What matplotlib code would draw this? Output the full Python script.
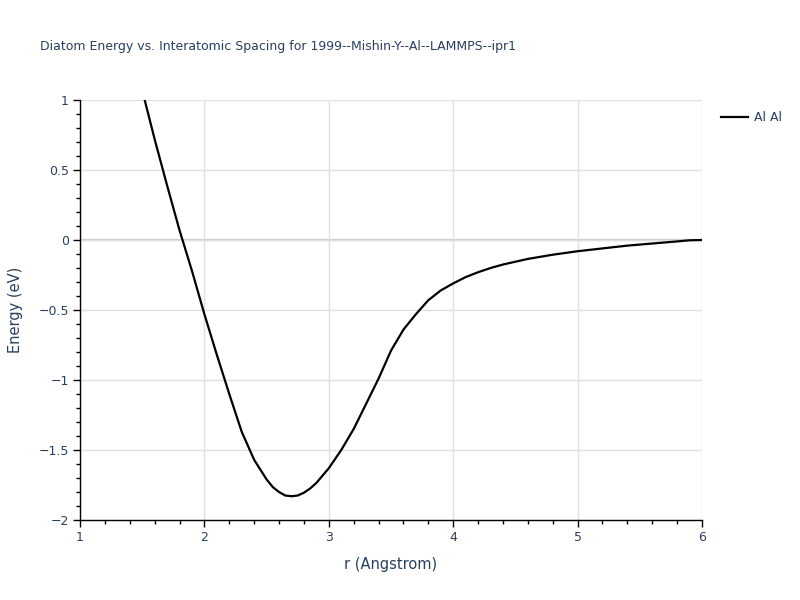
import matplotlib.pyplot as plt
from matplotlib.ticker import MultipleLocator, FuncFormatter

# interatomic spacing (Angstrom) and diatom energy (eV)
r = [1.52, 1.6, 1.7, 1.8, 1.9, 2.0, 2.1, 2.2, 2.3, 2.4, 2.5, 2.55, 2.6, 2.65,
     2.7, 2.75, 2.8, 2.85, 2.9, 3.0, 3.1, 3.2, 3.3, 3.4, 3.5, 3.6, 3.7, 3.8,
     3.9, 4.0, 4.1, 4.2, 4.3, 4.4, 4.6, 4.8, 5.0, 5.2, 5.4, 5.6, 5.8, 5.9, 6.0]
energy = [1.0, 0.72, 0.39, 0.07, -0.22, -0.53, -0.82, -1.1, -1.37, -1.57,
          -1.71, -1.765, -1.80, -1.825, -1.83, -1.825, -1.805, -1.775, -1.735,
          -1.63, -1.50, -1.35, -1.17, -0.99, -0.79, -0.64, -0.53, -0.43, -0.36,
          -0.31, -0.265, -0.23, -0.2, -0.175, -0.135, -0.105, -0.08, -0.06,
          -0.04, -0.025, -0.01, -0.002, 0.0]

title = "Diatom Energy vs. Interatomic Spacing for 1999--Mishin-Y--Al--LAMMPS--ipr1"
text_color = '#2a3f5f'

fig = plt.figure(figsize=(8, 6), dpi=100)
ax = fig.add_axes([0.1, 0.1333, 0.7775, 0.7])

ax.axhline(0, color='#cccccc', lw=1.6, zorder=1)
ax.plot(r, energy, color='black', lw=1.6, label='Al Al', zorder=3)

ax.set_xlim(1, 6)
ax.set_ylim(-2, 1)
ax.xaxis.set_major_locator(MultipleLocator(1))
ax.xaxis.set_minor_locator(MultipleLocator(0.2))
ax.yaxis.set_major_locator(MultipleLocator(0.5))
ax.yaxis.set_minor_locator(MultipleLocator(0.1))
ax.yaxis.set_major_formatter(FuncFormatter(lambda v, p: ('%g' % v).replace('-', '\u2212')))

ax.grid(True, which='major', color='#e0e0e0', lw=1, zorder=0)
for side in ['top', 'right']:
    ax.spines[side].set_visible(False)
for side in ['left', 'bottom']:
    ax.spines[side].set_color('black')
    ax.spines[side].set_linewidth(1)

ax.tick_params(which='major', direction='out', length=5, width=1, color='black',
               labelsize=9, labelcolor=text_color, pad=3)
ax.tick_params(which='minor', direction='out', length=3, width=1, color='black')

ax.set_xlabel('r (Angstrom)', fontsize=10.5, color=text_color, labelpad=9)
ax.set_ylabel('Energy (eV)', fontsize=10.5, color=text_color, labelpad=11)

fig.text(0.05, 0.923, title, fontsize=9, color=text_color, ha='left', va='center')

ax.legend(loc='upper left', bbox_to_anchor=(1.012, 1.0), frameon=False,
          fontsize=9, labelcolor=text_color, handlelength=2.2, handletextpad=0.5)

fig.savefig('out.png', dpi=100)
